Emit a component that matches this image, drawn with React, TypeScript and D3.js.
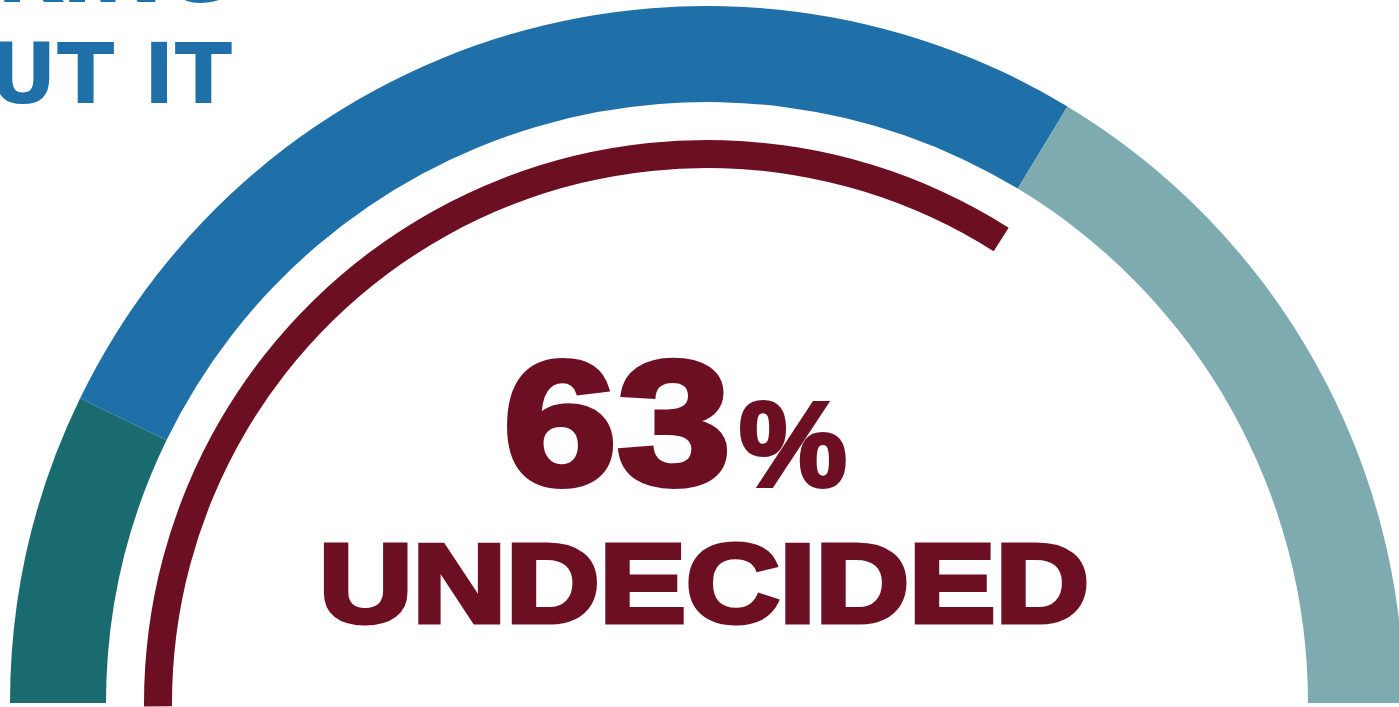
import { useRef, useEffect } from "react";
import * as d3 from "d3";

// gauge segments, share of the half circle
const segmentLabels = ["Oppose", "Undecided leaning", "Support"];
const segmentShares = [14.4, 52.9, 32.7];
const segmentColors = ["#1a6b6f", "#1f6fa8", "#7eabb0"];

// inner arc (how far the dark red band runs around the gauge, in %)
const undecidedArc = 68;
const undecidedLabel = "63";
const undecidedCaption = "UNDECIDED";

const headingLines = ["THINKING", "ABOUT IT"];

const W = 1399;
const H = 707;
const RED = "#6d0f22";

const App: React.FC = () => {
  const svgRef = useRef<SVGSVGElement | null>(null);

  useEffect(() => {
    if (!svgRef.current) return;
    const svg = d3.select(svgRef.current);
    svg.selectAll("*").remove();

    const cx = 707;
    const cy = 703;
    const outerR = 697;
    const innerR = 601;

    const total = d3.sum(segmentShares);
    const angle = d3.scaleLinear().domain([0, total]).range([-Math.PI / 2, Math.PI / 2]);

    const g = svg.append("g").attr("transform", `translate(${cx},${cy})`);

    // outer three-colour band
    const cum = d3.cumsum(segmentShares);
    const segs = segmentShares.map((v, i) => ({
      label: segmentLabels[i],
      start: i === 0 ? 0 : cum[i - 1],
      end: cum[i],
      color: segmentColors[i],
    }));

    const bandArc = d3
      .arc<any>()
      .innerRadius(innerR)
      .outerRadius(outerR)
      .startAngle((d) => angle(d.start))
      .endAngle((d) => angle(d.end));

    g.selectAll("path.seg")
      .data(segs)
      .join("path")
      .attr("class", "seg")
      .attr("d", bandArc)
      .attr("fill", (d) => d.color);

    // inner red arc
    const pct = d3.scaleLinear().domain([0, 100]).range([-Math.PI / 2, Math.PI / 2]);
    const redArc = d3
      .arc<any>()
      .innerRadius(535)
      .outerRadius(563)
      .startAngle(pct(0) - 0.006)
      .endAngle(pct(undecidedArc));

    g.append("path").attr("d", redArc({})).attr("fill", RED);

    const heavy = (sel: any, sw: number) =>
      sel
        .attr("fill", RED)
        .attr("stroke", RED)
        .attr("stroke-width", sw)
        .attr("stroke-linejoin", "miter")
        .attr("lengthAdjust", "spacingAndGlyphs")
        .style("font-family", "'Liberation Sans', Arial, sans-serif")
        .style("font-weight", 700);

    // big number
    heavy(svg.append("text"), 6)
      .attr("x", 503)
      .attr("y", 484)
      .attr("textLength", 228)
      .style("font-size", "177px")
      .text(undecidedLabel);

    heavy(svg.append("text"), 4)
      .attr("x", 739)
      .attr("y", 486)
      .attr("textLength", 108)
      .style("font-size", "120px")
      .text("%");

    heavy(svg.append("text"), 5)
      .attr("x", 319)
      .attr("y", 622)
      .attr("textLength", 770)
      .style("font-size", "112px")
      .text(undecidedCaption);

    // heading, mostly cropped
    svg
      .selectAll("text.head")
      .data(headingLines)
      .join("text")
      .attr("class", "head")
      .attr("x", 232)
      .attr("y", (_d, i) => 2 + i * 101)
      .attr("text-anchor", "end")
      .attr("fill", "#1f6fa8")
      .style("font-family", "'DejaVu Sans', sans-serif")
      .style("font-weight", 700)
      .style("font-size", "84px")
      .text((d) => d);
  }, []);

  return (
    <svg
      ref={svgRef}
      width={W}
      height={H}
      style={{ position: "fixed", left: 0, top: 0, background: "#fff" }}
    />
  );
};

export default App;
